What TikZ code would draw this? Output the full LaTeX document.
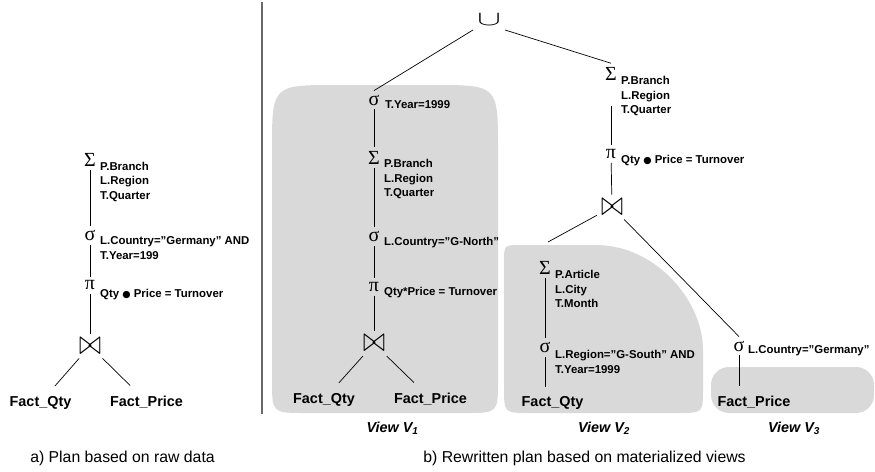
\documentclass[tikz,border=0pt]{standalone}
\usepackage{fontspec}
\usepackage{graphicx}
\setmainfont{Liberation Sans}
\newfontfamily\grkfont{Liberation Serif}
\newfontfamily\dotfont{DejaVu Sans}
\definecolor{viewgray}{RGB}{217,217,217}
\definecolor{rulegray}{RGB}{105,105,105}
\newcommand{\opsize}{\fontsize{20}{20}\selectfont}
\newcommand{\qdot}{{\dotfont\fontsize{9.5}{9.5}\selectfont ●}}
\newcommand{\joinop}{\scalebox{1.3}[1.7]{$\bowtie$}}
\newcommand{\unionop}{\scalebox{1.7}[1.0]{$\cup$}}
\tikzset{
  op/.style={inner sep=4pt, font=\grkfont\opsize},
  attr/.style={anchor=north west, inner sep=0pt, align=left, font=\bfseries\fontsize{11.4}{14.6}\selectfont},
  rel/.style={anchor=base, inner sep=3pt, outer sep=7pt, font=\bfseries\fontsize{14.4}{16}\selectfont},
  viewname/.style={anchor=base, inner sep=0pt, font=\bfseries\itshape\fontsize{14.4}{16}\selectfont},
  capt/.style={anchor=base, inner sep=0pt, font=\fontsize{15.8}{18}\selectfont},
  edge/.style={line width=0.7pt},
}
\begin{document}
\begin{tikzpicture}[x=1pt,y=-1pt]
\useasboundingbox (0,0) rectangle (875,471);

% shaded views
\fill[viewgray] (272,150) .. controls (272,85) .. (337,85) -- (433,85) .. controls (498,85) .. (498,150) -- (498,380) .. controls (498,413) .. (465,413) -- (305,413) .. controls (272,413) .. (272,380) -- cycle;
\fill[viewgray] (504,262) .. controls (504,245) .. (521,245) -- (596,245) .. controls (655,245) and (703,300) .. (703,350) -- (703,388) .. controls (703,413) .. (678,413) -- (530,413) .. controls (504,413) .. (504,387) -- cycle;
\fill[viewgray, rounded corners=18pt] (711,367) rectangle (874,413);

% separator
\draw[rulegray, line width=1.3pt] (262,2) -- (262,414);

% a) raw data plan
\node[op] (aSum) at (90,159.5) {Σ};
\node[attr] (aSumAttr) at (100,161.7) {P.Branch\\L.Region\\T.Quarter};
\node[op] (aSel) at (90,235.7) {σ};
\node[attr] (aSelAttr) at (100,236.7) {L.Country=”Germany” AND\\T.Year=199};
\node[op] (aPro) at (90,285.5) {π};
\node[attr] (aProAttr) at (100,289.3) {Qty \qdot{} Price = Turnover};
\node[op] (aJoin) at (90,346) {\joinop};
\node[rel] (aQty) at (40.5,406) {Fact\_Qty};
\node[rel] (aPrice) at (146.5,406) {Fact\_Price};

\draw[edge] (aSum) -- (aSel);
\draw[edge] (aSel) -- (aPro);
\draw[edge] (aPro) -- (aJoin);
\draw[edge] (aJoin) -- (aQty);
\draw[edge] (aJoin) -- (aPrice);

\node[capt] (aCapt) at (122.5,462) {a) Plan based on raw data};

% b) top of rewritten plan
\node[op] (bUnion) at (489,20) {\unionop};
\node[op] (bSum) at (611,74) {Σ};
\node[attr] (bSumAttr) at (621,76) {P.Branch\\L.Region\\T.Quarter};
\coordinate (bSumEnd) at (611,106);
\node[op] (bPro) at (611,154) {π};
\node[attr] (bProAttr) at (621,155) {Qty \qdot{} Price = Turnover};
\node[op] (bJoin) at (612,207) {\joinop};

% view 1
\node[op] (v1Sel) at (374,100) {σ};
\node[attr] (v1SelAttr) at (385,100) {T.Year=1999};
\node[op] (v1Sum) at (374,157.5) {Σ};
\node[attr] (v1SumAttr) at (384,159.3) {P.Branch\\L.Region\\T.Quarter};
\node[op] (v1Reg) at (374,236.7) {σ};
\node[attr] (v1RegAttr) at (384,237.3) {L.Country=”G-North”};
\node[op] (v1Pro) at (374,287) {π};
\node[attr] (v1ProAttr) at (384,287.3) {Qty*Price = Turnover};
\node[op] (v1Join) at (374,343.7) {\joinop};
\node[rel] (v1Qty) at (324,403) {Fact\_Qty};
\node[rel] (v1Price) at (430.5,403) {Fact\_Price};
\node[viewname] (v1Name) at (392.5,432) {View V\textsubscript{1}};

% view 2
\node[op] (v2Sum) at (545,267.5) {Σ};
\node[attr] (v2SumAttr) at (555,270) {P.Article\\L.City\\T.Month};
\node[op] (v2Sel) at (545,347.5) {σ};
\node[attr] (v2SelAttr) at (555,350) {L.Region=”G-South” AND\\T.Year=1999};
\node[rel] (v2Qty) at (552.5,406.7) {Fact\_Qty};
\node[viewname] (v2Name) at (604,432) {View V\textsubscript{2}};
\coordinate (v2Top) at (548,242);

% view 3
\node[op] (v3Sel) at (739,346) {σ};
\node[attr] (v3SelAttr) at (748,345) {L.Country=”Germany”};
\node[rel] (v3Price) at (754,406.7) {Fact\_Price};
\node[viewname] (v3Name) at (794,432) {View V\textsubscript{3}};

\draw[edge] (bUnion.south west) -- (v1Sel.north);
\draw[edge] (bUnion.south east) -- (bSum.north);
\draw[edge] (bSumEnd) -- (bPro);
\draw[edge] (bPro) -- (bJoin);
\draw[edge] (bJoin) -- (v2Top);
\draw[edge] (bJoin) -- (v3Sel.north);

\draw[edge] (v1Sel) -- (v1Sum);
\draw[edge] (v1Sum) -- (v1Reg);
\draw[edge] (v1Reg) -- (v1Pro);
\draw[edge] (v1Pro) -- (v1Join);
\draw[edge] (v1Join) -- (v1Qty);
\draw[edge] (v1Join) -- (v1Price);

\draw[edge] (v2Sum) -- (v2Sel);
\draw[edge] (v2Sel) -- (v2Sel |- v2Qty.north);
\draw[edge] (v3Sel) -- (v3Sel |- v3Price.north);

\node[capt] (bCapt) at (584.5,462) {b) Rewritten plan based on materialized views};
\end{tikzpicture}
\end{document}
